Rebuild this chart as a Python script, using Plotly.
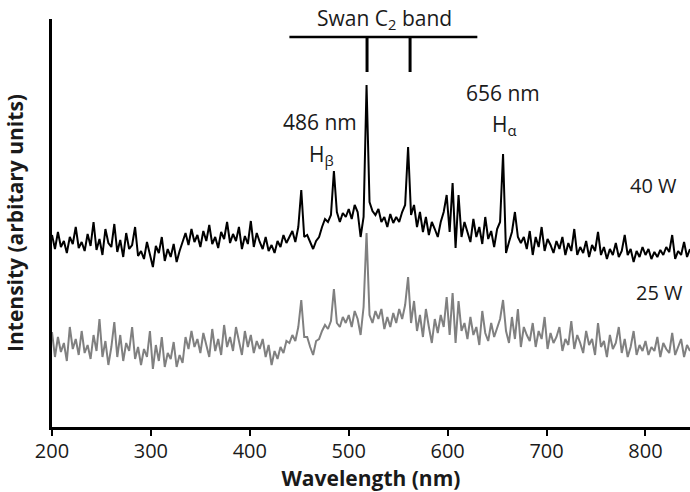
import plotly.graph_objects as go

# Wavelength grid (nm), 3 nm step
wavelength = list(range(200, 846, 3))

# 40 W spectrum (arbitrary units)
intensity_40w = [
    192, 178, 195, 180, 186, 174, 190, 183, 200, 179,
    185, 176, 193, 181, 205, 177, 188, 172, 198, 184,
    180, 203, 175, 187, 170, 194, 178, 182, 200, 171,
    176, 168, 185, 172, 160, 181, 174, 190, 166, 178,
    170, 183, 165, 176, 186, 194, 182, 198, 185, 192,
    180, 196, 186, 202, 183, 190, 179, 195, 188, 205,
    184, 193, 186, 200, 178, 191, 183, 206, 180, 194,
    185, 178, 190, 176, 182, 174, 186, 180, 192, 184,
    190, 196, 185, 200, 237, 190, 192, 185, 178, 186,
    190, 200, 208, 205, 212, 256, 215, 205, 214, 210,
    218, 208, 222, 215, 190, 210, 342, 225, 216, 212,
    218, 205, 210, 200, 213, 204, 210, 205, 215, 222,
    280, 212, 222, 200, 215, 195, 210, 192, 205, 198,
    190, 205, 215, 232, 195, 244, 179, 232, 190, 205,
    195, 185, 208, 190, 200, 183, 210, 188, 196, 180,
    198, 205, 273, 174, 185, 195, 215, 190, 184, 190,
    178, 196, 172, 190, 180, 200, 176, 188, 182, 174,
    186, 178, 190, 172, 184, 176, 198, 172, 180, 174,
    186, 170, 182, 176, 195, 172, 180, 168, 178, 172,
    184, 170, 176, 192, 172, 178, 165, 176, 170, 180,
    172, 178, 168, 175, 170, 177, 172, 180, 175, 192,
    168, 176, 172, 185, 170, 178,
]

# 25 W spectrum (arbitrary units)
intensity_25w = [
    95, 70, 90, 75, 84, 66, 100, 78, 88, 72,
    96, 74, 82, 68, 92, 76, 108, 70, 86, 62,
    80, 105, 70, 92, 66, 84, 76, 100, 68, 80,
    62, 78, 70, 96, 58, 82, 66, 90, 60, 74,
    68, 85, 60, 72, 64, 90, 78, 96, 80, 88,
    74, 94, 82, 70, 98, 76, 88, 72, 102, 80,
    90, 76, 100, 84, 72, 96, 80, 92, 74, 86,
    78, 88, 70, 82, 62, 76, 68, 80, 74, 86,
    84, 92, 86, 100, 127, 90, 90, 80, 72, 86,
    88, 96, 102, 98, 106, 138, 104, 100, 110, 104,
    112, 100, 116, 108, 92, 120, 194, 112, 104, 116,
    108, 118, 98, 110, 100, 114, 104, 118, 108, 122,
    150, 104, 126, 96, 112, 90, 118, 100, 84, 108,
    94, 112, 100, 130, 92, 134, 84, 126, 96, 104,
    88, 110, 92, 100, 82, 116, 94, 86, 104, 90,
    98, 108, 127, 96, 84, 110, 88, 118, 80, 100,
    92, 86, 104, 80, 96, 88, 110, 78, 94, 84,
    90, 100, 76, 88, 82, 106, 78, 92, 84, 74,
    96, 82, 88, 72, 104, 80, 86, 70, 92, 78,
    84, 100, 74, 88, 70, 80, 96, 72, 82, 76,
    86, 72, 80, 76, 90, 70, 84, 78, 74, 94,
    72, 80, 88, 70, 82, 76,
]

x_ticks = [200, 300, 400, 500, 600, 700, 800]

# Swan C2 band bracket (nm) and marker heights (arbitrary units)
swan_span = [440, 630]
swan_lines = [518.5, 562]
bracket_y = 390
bracket_tick_bottom = 355

FONT = "Open Sans"
TXT = "#1a1a1a"

fig = go.Figure()
fig.add_trace(go.Scatter(x=wavelength, y=intensity_25w, mode="lines",
                         line=dict(color="#808080", width=2), name="25 W",
                         showlegend=False))
fig.add_trace(go.Scatter(x=wavelength, y=intensity_40w, mode="lines",
                         line=dict(color="#000000", width=2), name="40 W",
                         showlegend=False))

# bracket
fig.add_shape(type="line", xref="x", yref="y", x0=swan_span[0], x1=swan_span[1],
              y0=bracket_y, y1=bracket_y, line=dict(color="black", width=2.5))
for xv in swan_lines:
    fig.add_shape(type="line", xref="x", yref="y", x0=xv, x1=xv,
                  y0=bracket_y, y1=bracket_tick_bottom,
                  line=dict(color="black", width=3))

def label(x, y, text, size=21, yref="y"):
    fig.add_annotation(x=x, y=y, xref="x", yref=yref, text=text, showarrow=False,
                       font=dict(family=FONT, size=size, color=TXT),
                       xanchor="center", yanchor="middle")

label(536, 1.0, "Swan C<sub>2</sub> band", size=21, yref="paper")
label(471, 305, "486 nm")
label(472, 272, "H<sub>β</sub>")
label(656, 334, "656 nm")
label(657, 302, "H<sub>α</sub>")
label(808, 242, "40 W", size=20)
label(814, 135, "25 W", size=20)

fig.update_layout(
    width=690, height=492,
    margin=dict(l=52, r=0, t=19, b=65),
    plot_bgcolor="white", paper_bgcolor="white",
    font=dict(family=FONT, color=TXT),
    xaxis=dict(range=[200, 845], tickvals=x_ticks, showline=True, linecolor="black",
               linewidth=2.5, ticks="outside", ticklen=6, tickwidth=2, tickcolor="black",
               tickfont=dict(family=FONT, size=20, color=TXT), showgrid=False,
               zeroline=False, ticklabelstandoff=-2,
               title=dict(text="<b>Wavelength (nm)</b>", standoff=0,
                          font=dict(family=FONT, size=21, color=TXT))),
    yaxis=dict(range=[0, 408], showline=True, linecolor="black", linewidth=2.5,
               showticklabels=False, ticks="", showgrid=False, zeroline=False,
               title=dict(text="<b>Intensity (arbitary units)</b>", standoff=20,
                          font=dict(family=FONT, size=21, color=TXT))),
)

fig.write_html("out.html", config={"displayModeBar": False},
               post_script="document.body.style.margin='0';")
